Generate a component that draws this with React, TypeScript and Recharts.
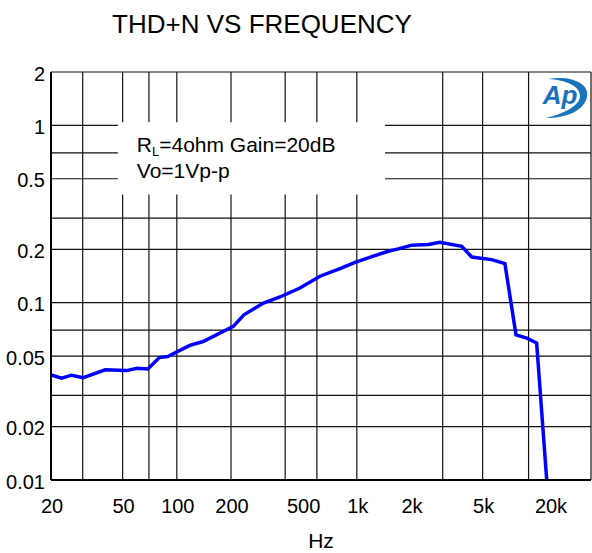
import React from 'react';
import { LineChart, Line, XAxis, YAxis, CartesianGrid, ReferenceArea } from 'recharts';

// THD+N (%) against frequency (Hz)
const freq = [20, 22.9, 26, 30.2, 40, 52.6, 60, 69, 80, 89, 118, 140, 206, 236, 303, 374, 483, 624, 800, 977, 1236, 1496, 1700, 2018, 2497, 2897, 3826, 4348, 5610, 6650, 7660, 8800, 9980, 11350];
const thd = [0.0392, 0.0375, 0.039, 0.0378, 0.0418, 0.0414, 0.0427, 0.0423, 0.049, 0.0497, 0.0574, 0.0604, 0.0735, 0.0855, 0.0996, 0.1077, 0.121, 0.141, 0.155, 0.169, 0.183, 0.195, 0.201, 0.211, 0.213, 0.219, 0.208, 0.181, 0.175, 0.166, 0.0659, 0.0631, 0.0592, 0.01];

const xTicks = [20, 50, 100, 200, 500, 1000, 2000, 5000, 20000];
const yTicks = [0.01, 0.02, 0.05, 0.1, 0.2, 0.5, 1, 2];

const xGrid = [20, 30, 40, 50, 60, 70, 80, 90, 100, 200, 300, 400, 500, 600, 700, 800, 900, 1000, 2000, 3000, 4000, 5000, 6000, 7000, 8000, 9000, 10000, 20000];
const yGrid = [0.01, 0.02, 0.03, 0.04, 0.05, 0.06, 0.07, 0.08, 0.09, 0.1, 0.2, 0.3, 0.4, 0.5, 0.6, 0.7, 0.8, 0.9, 1, 2];

// note box extent in data units
const noteX = [47, 1435];
const noteY = [0.407, 1.04];

const data = freq.map((f, i) => ({ f, thd: thd[i] }));

const FONT = '"Liberation Sans", Arial, Helvetica, sans-serif';
const hz = (v: number) => (v >= 1000 ? `${v / 1000}k` : String(v));

const XTick = (p: any) => {
  const { x, y, payload } = p;
  const last = payload.value === 20000;
  return (
    <text x={last ? x - 21 : x + 1} y={y} dy={33} textAnchor="middle" fontSize={20} fontFamily={FONT} fill="#000">
      {hz(payload.value)}
    </text>
  );
};

const YTick = (p: any) => {
  const { x, y, payload } = p;
  return (
    <text x={x - 6} y={y} dy={8.5} textAnchor="end" fontSize={20} fontFamily={FONT} fill="#000">
      {String(payload.value)}
    </text>
  );
};

const NoteLabel = (p: any) => {
  const vb = p.viewBox || { x: 0, y: 0 };
  return (
    <text fontSize={21} fontFamily={FONT} fill="#000">
      <tspan x={vb.x + 19} y={vb.y + 30}>R</tspan>
      <tspan fontSize={13} dy={4}>L</tspan>
      <tspan dy={-4}>=4ohm Gain=20dB</tspan>
      <tspan x={vb.x + 19} y={vb.y + 56}>Vo=1Vp-p</tspan>
    </text>
  );
};

export default function App() {
  return (
    <div style={{ position: 'absolute', left: 0, top: 0, width: 592, height: 553, background: '#fff', fontFamily: FONT }}>
      <LineChart width={592} height={553} data={data} margin={{ top: 72, right: 1, bottom: 0, left: 0 }}>
        <CartesianGrid
          stroke="#111"
          strokeWidth={1.2}
          verticalValues={xGrid}
          horizontalValues={yGrid}
        />
        <XAxis
          dataKey="f"
          type="number"
          scale="log"
          domain={[20, 20000]}
          allowDataOverflow
          ticks={xTicks}
          tick={<XTick />}
          tickLine={false}
          tickSize={0}
          tickMargin={0}
          height={73}
          axisLine={{ stroke: '#000', strokeWidth: 2 }}
          label={{ value: 'Hz', position: 'insideBottom', offset: 5, fontSize: 21, fill: '#000', fontFamily: FONT }}
        />
        <YAxis
          type="number"
          scale="log"
          domain={[0.01, 2]}
          allowDataOverflow
          ticks={yTicks}
          tick={<YTick />}
          tickLine={false}
          tickSize={0}
          tickMargin={0}
          width={51}
          axisLine={{ stroke: '#000', strokeWidth: 2 }}
        />
        <ReferenceArea
          x1={noteX[0]}
          x2={noteX[1]}
          y1={noteY[0]}
          y2={noteY[1]}
          fill="#fff"
          fillOpacity={1}
          stroke="none"
          label={NoteLabel}
        />
        <Line
          type="linear"
          dataKey="thd"
          stroke="#0000ff"
          strokeWidth={3.5}
          dot={false}
          isAnimationActive={false}
        />
      </LineChart>
      <svg width={592} height={553} style={{ position: 'absolute', left: 0, top: 0, pointerEvents: 'none' }}>
        <text x={262} y={33} textAnchor="middle" fontSize={26} fontFamily={FONT} fill="#000">
          THD+N VS FREQUENCY
        </text>
        <g>
          <path d="M548 79 C 572 75, 590 84, 587 97 C 584 110, 568 118, 546 118 C 566 113, 580 105, 580 96 C 580 86, 566 80, 548 79 Z" fill="#1a74bd" />
          <text x={560} y={104} textAnchor="middle" fontSize={26} fontStyle="italic" fontWeight="bold" fontFamily={FONT} fill="#1a74bd">
            Ap
          </text>
        </g>
      </svg>
    </div>
  );
}
